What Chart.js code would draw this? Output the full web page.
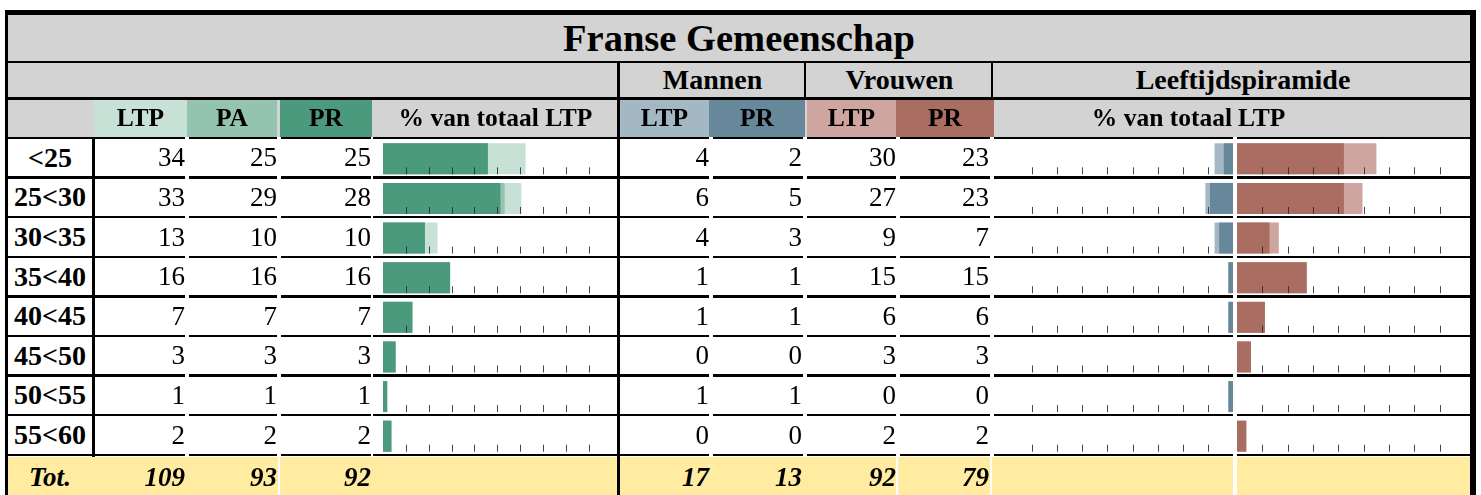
<!DOCTYPE html>
<html>
<head>
<meta charset="utf-8">
<script src="https://cdn.jsdelivr.net/npm/chart.js@4"></script>
<style>
  body { margin: 0; background: #fff; }
  #wrap { position: relative; width: 1481px; height: 495px; overflow: hidden;
          font-family: 'Liberation Serif', 'Times New Roman', serif; }
  .a { position: absolute; box-sizing: border-box; }
  .t { position: absolute; display: flex; align-items: center; white-space: nowrap; color: #000; }
  canvas { position: absolute; }
</style>
</head>
<body>
<div id="wrap"></div>
<script>
// Data
const ageGroups = ['<25', '25<30', '30<35', '35<40', '40<45', '45<50', '50<55', '55<60'];
const ltp      = [34, 33, 13, 16, 7, 3, 1, 2];
const pa       = [25, 29, 10, 16, 7, 3, 1, 2];
const pr       = [25, 28, 10, 16, 7, 3, 1, 2];
const menLtp   = [4, 6, 4, 1, 1, 0, 1, 0];
const menPr    = [2, 5, 3, 1, 1, 0, 1, 0];
const womenLtp = [30, 27, 9, 15, 6, 3, 0, 2];
const womenPr  = [23, 23, 7, 15, 6, 3, 0, 2];
const shareTicks   = [5, 10, 15, 20, 25, 30, 35, 40, 45];
const pyramidTicks = [5, 10, 15, 20, 25, 30, 35, 40];

// Colours
const GRAY = '#d3d3d3', YELLOW = '#ffeca1', BLACK = '#000';
const G_LIGHT = '#c7e1d7', G_MID = '#94c4b0', G_DARK = '#4b9a7d';
const M_LIGHT = '#a3b8c2', M_DARK = '#67879a';
const W_LIGHT = '#cea69f', W_DARK = '#a96d62';

const wrap = document.getElementById('wrap');
const ROW0 = 138, ROWH = 39.6, N = ageGroups.length;
const sum = a => a.reduce((s, v) => s + v, 0);
const totalLtp = sum(ltp);
const pct = a => a.map(v => v / totalLtp * 100);

function rect(x0, y0, x1, y1, color) {
  const d = document.createElement('div');
  d.className = 'a';
  Object.assign(d.style, { left: x0 + 'px', top: y0 + 'px', width: (x1 - x0) + 'px',
                           height: (y1 - y0) + 'px', background: color });
  wrap.appendChild(d);
}

function text(str, x0, x1, yc, font, align) {
  const d = document.createElement('div');
  d.className = 't';
  d.textContent = str;
  Object.assign(d.style, { left: x0 + 'px', width: (x1 - x0) + 'px', top: (yc - 20) + 'px',
                           height: '40px', font: font,
                           justifyContent: align === 'right' ? 'flex-end' : align === 'left' ? 'flex-start' : 'center' });
  wrap.appendChild(d);
}

// Backgrounds
rect(8, 15, 1470, 137, GRAY);
rect(94, 99, 187, 137, G_LIGHT);
rect(187, 99, 277, 137, G_MID);
rect(280, 99, 372, 137, G_DARK);
rect(620, 99, 709, 137, M_LIGHT);
rect(709, 99, 805, 137, M_DARK);
rect(807, 99, 896, 137, W_LIGHT);
rect(896, 99, 994, 137, W_DARK);
rect(8, 457, 1470, 495, YELLOW);
[278, 896, 990].forEach(x => rect(x, 457, x + 1.5, 495, '#fff'));
rect(1233, 137, 1237, 495, '#fff');

// Bar charts
const rowTicks = {
  id: 'rowTicks',
  afterDatasetsDraw(chart, args, opts) {
    const { ctx, scales: { x, y } } = chart;
    ctx.save();
    ctx.strokeStyle = opts.color;
    ctx.lineWidth = 1;
    chart.data.labels.forEach((l, i) => {
      const yb = y.getPixelForValue(i) + 15.5;
      opts.values.forEach(v => {
        const px = Math.round(x.getPixelForValue(v)) + 0.5;
        ctx.beginPath();
        ctx.moveTo(px, yb - 7);
        ctx.lineTo(px, yb);
        ctx.stroke();
      });
    });
    ctx.restore();
  }
};

function barChart(left, width, datasets, max, reverse, ticks) {
  const c = document.createElement('canvas');
  c.width = width; c.height = Math.round(ROWH * N);
  c.style.left = left + 'px';
  c.style.top = (ROW0 + 1) + 'px';
  wrap.appendChild(c);
  return new Chart(c, {
    type: 'bar',
    data: { labels: ageGroups, datasets },
    options: {
      indexAxis: 'y',
      responsive: false,
      animation: false,
      layout: { padding: 0 },
      datasets: { bar: { grouped: false, barThickness: 31, borderWidth: 0, inflateAmount: 0 } },
      scales: {
        x: { display: false, min: 0, max, reverse },
        y: { display: false }
      },
      plugins: {
        legend: { display: false },
        tooltip: { enabled: false },
        rowTicks: { values: ticks, color: 'rgba(40,40,40,0.85)' }
      }
    },
    plugins: [rowTicks]
  });
}

barChart(383, 235, [
  { label: 'PR', data: pct(pr), backgroundColor: G_DARK, order: 1 },
  { label: 'PA', data: pct(pa), backgroundColor: G_MID, order: 2 },
  { label: 'LTP', data: pct(ltp), backgroundColor: G_LIGHT, order: 3 }
], 51.4, false, shareTicks);

barChart(994, 239, [
  { label: 'PR', data: pct(menPr), backgroundColor: M_DARK, order: 1 },
  { label: 'LTP', data: pct(menLtp), backgroundColor: M_LIGHT, order: 2 }
], 47.6, true, pyramidTicks);

barChart(1237, 233, [
  { label: 'PR', data: pct(womenPr), backgroundColor: W_DARK, order: 1 },
  { label: 'LTP', data: pct(womenLtp), backgroundColor: W_LIGHT, order: 2 }
], 46, false, pyramidTicks);

// Lines
rect(8, 61, 1470, 63, BLACK);
rect(8, 97, 1470, 99.5, BLACK);
const segs = [[8, 93], [94, 185], [189, 277], [281, 371], [373, 618], [618, 709],
              [713, 803], [807, 896], [900, 990], [994, 1233], [1237, 1470]];
for (let k = 0; k <= N; k++) {
  const y = ROW0 + ROWH * k - 1.25;
  segs.forEach(([x0, x1]) => rect(x0, y, x1, y + 2.5, BLACK));
}
rect(92, 137, 94.5, 457, BLACK);
rect(617, 61, 619.5, 495, BLACK);
rect(804, 61, 806, 99, BLACK);
rect(991, 61, 993, 99, BLACK);
rect(5, 10, 1476, 15, BLACK);
rect(5, 10, 8, 495, BLACK);
rect(1470, 10, 1476, 495, BLACK);

// Texts
const F_TITLE = 'bold 38.5px "Liberation Serif", serif';
const F_GROUP = 'bold 28px "Liberation Serif", serif';
const F_HEAD  = 'bold 25.5px "Liberation Serif", serif';
const F_LABEL = 'bold 28px "Liberation Serif", serif';
const F_NUM   = '27px "Liberation Serif", serif';
const F_TOT   = 'italic bold 27px "Liberation Serif", serif';

text('Franse Gemeenschap', 8, 1470, 38, F_TITLE);
text('Mannen', 620, 805, 80, F_GROUP);
text('Vrouwen', 807, 992, 80, F_GROUP);
text('Leeftijdspiramide', 1000, 1486, 80, F_GROUP);

const headY = 118;
text('LTP', 94, 187, headY, F_HEAD);
text('PA', 187, 277, headY, F_HEAD);
text('PR', 280, 372, headY, F_HEAD);
text('% van totaal LTP', 373, 618, headY, F_HEAD);
text('LTP', 620, 709, headY, F_HEAD);
text('PR', 709, 805, headY, F_HEAD);
text('LTP', 807, 896, headY, F_HEAD);
text('PR', 896, 994, headY, F_HEAD);
text('% van totaal', 994, 1232, headY, F_HEAD, 'right');
text('LTP', 1238, 1470, headY, F_HEAD, 'left');

// numeric columns: [values, right edge]
const numCols = [[ltp, 185], [pa, 277], [pr, 371], [menLtp, 709], [menPr, 802], [womenLtp, 896], [womenPr, 989]];
ageGroups.forEach((g, i) => {
  const yc = ROW0 + ROWH * (i + 0.5);
  text(g, 8, 92, yc, F_LABEL);
  numCols.forEach(([vals, xr]) => text(String(vals[i]), xr - 80, xr, yc, F_NUM, 'right'));
});
const totY = 477;
text('Tot.', 8, 92, totY, F_TOT);
numCols.forEach(([vals, xr]) => text(String(sum(vals)), xr - 80, xr, totY, F_TOT, 'right'));
</script>
</body>
</html>
